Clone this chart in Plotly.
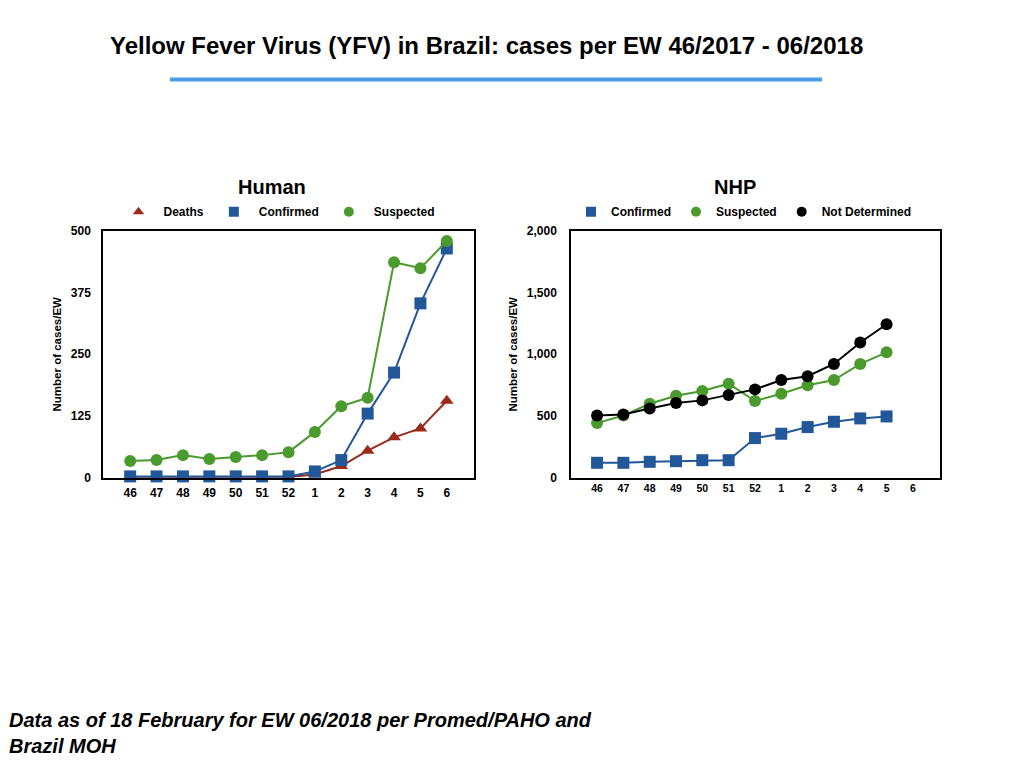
"""
Yellow Fever Virus (YFV) in Brazil - human and NHP cases per epidemiological week
"""

import plotly.graph_objects as go

# ----------------------------------------------------------------------------
# Data
# ----------------------------------------------------------------------------
weeks = ['46', '47', '48', '49', '50', '51', '52', '1', '2', '3', '4', '5', '6']

human_deaths = [2, 2, 2, 2, 2, 2, 2, 7, 24, 55, 82, 100, 156]
human_confirmed = [3, 3, 3, 3, 3, 3, 3, 13, 36, 130, 213, 353, 464]
human_suspected = [34, 36, 46, 38, 42, 46, 52, 93, 145, 162, 436, 424, 479]

nhp_weeks = ['46', '47', '48', '49', '50', '51', '52', '1', '2', '3', '4', '5']
nhp_confirmed = [122, 122, 130, 135, 143, 143, 322, 357, 411, 454, 481, 497]
nhp_suspected = [443, 505, 600, 665, 703, 762, 622, 681, 749, 792, 922, 1016]
nhp_not_determined = [505, 513, 562, 605, 627, 670, 716, 792, 822, 922, 1095, 1243]

RED = '#9b2b1c'
BLUE = '#22589a'
GREEN = '#4a9a2e'
BLACK = '#000000'
FONT = 'Liberation Sans'

W, H = 1024, 768


def px_x(v):
    return v / W


def px_y(v):
    # small correction: the captured page comes out slightly squeezed vertically
    return 1 - ((v - 6.5) / 0.981) / H


fig = go.Figure()

# ============================================================================
# HUMAN
# ============================================================================
human_series = [
    ('Deaths', human_deaths, RED, 'triangle-up'),
    ('Confirmed', human_confirmed, BLUE, 'square'),
    ('Suspected', human_suspected, GREEN, 'circle'),
]
for name, vals, color, sym in human_series:
    fig.add_trace(go.Scatter(
        x=weeks, y=vals, mode='lines+markers', name=name,
        line=dict(color=color, width=2),
        marker=dict(symbol=sym, size=12, color=color),
        xaxis='x', yaxis='y', showlegend=False, cliponaxis=False
    ))
    # legend entry (marker only)
    fig.add_trace(go.Scatter(
        x=[None], y=[None], mode='markers', name=name,
        marker=dict(symbol=sym, size=10, color=color),
        xaxis='x', yaxis='y', legend='legend'
    ))

# ============================================================================
# NHP
# ============================================================================
nhp_series = [
    ('Confirmed', nhp_confirmed, BLUE, 'square'),
    ('Suspected', nhp_suspected, GREEN, 'circle'),
    ('Not Determined', nhp_not_determined, BLACK, 'circle'),
]
for name, vals, color, sym in nhp_series:
    fig.add_trace(go.Scatter(
        x=nhp_weeks, y=vals, mode='lines+markers', name=name,
        line=dict(color=color, width=2),
        marker=dict(symbol=sym, size=12, color=color),
        xaxis='x2', yaxis='y2', showlegend=False, cliponaxis=False
    ))
    fig.add_trace(go.Scatter(
        x=[None], y=[None], mode='markers', name=name,
        marker=dict(symbol=sym, size=10, color=color),
        xaxis='x2', yaxis='y2', legend='legend2'
    ))

axis_common = dict(
    showline=True, linecolor='black', linewidth=1.5, mirror=True,
    showgrid=False, zeroline=False, ticks='', fixedrange=True,
)

fig.update_layout(
    width=W, height=H,
    margin=dict(l=0, r=0, t=0, b=0),
    paper_bgcolor='white', plot_bgcolor='white',
    font=dict(family=FONT, color='black'),
    xaxis=dict(
        axis_common, domain=[px_x(103), px_x(474)], anchor='y',
        type='category', categoryorder='array', categoryarray=weeks,
        range=[-1.03, 13.03], ticklabelstandoff=3,
        tickfont=dict(size=12, family=FONT, weight='bold'),
    ),
    yaxis=dict(
        axis_common, domain=[px_y(477), px_y(230)], anchor='x',
        range=[0, 500], tickvals=[0, 125, 250, 375, 500],
        ticklabelstandoff=8,
        tickfont=dict(size=12, family=FONT, weight='bold'),
        title=dict(text='Number of cases/EW', standoff=7,
                   font=dict(size=11.5, family=FONT, weight='bold')),
    ),
    xaxis2=dict(
        axis_common, domain=[px_x(571), px_x(940)], anchor='y2',
        type='category', categoryorder='array', categoryarray=weeks,
        range=[-0.99, 13.03], ticklabelstandoff=0,
        tickfont=dict(size=10.5, family=FONT, weight='bold'),
    ),
    yaxis2=dict(
        axis_common, domain=[px_y(477), px_y(230)], anchor='x2',
        range=[0, 2000], tickvals=[0, 500, 1000, 1500, 2000],
        tickformat=',d', ticklabelstandoff=10,
        tickfont=dict(size=12, family=FONT, weight='bold'),
        title=dict(text='Number of cases/EW', standoff=7,
                   font=dict(size=11.5, family=FONT, weight='bold')),
    ),
    legend=dict(
        orientation='h', x=px_x(277), xanchor='center', y=px_y(211), yanchor='middle',
        font=dict(size=12, family=FONT, weight='bold'),
        bgcolor='rgba(0,0,0,0)', itemclick=False, itemwidth=40,
    ),
    legend2=dict(
        orientation='h', x=px_x(744), xanchor='center', y=px_y(211), yanchor='middle',
        font=dict(size=12, family=FONT, weight='bold'),
        bgcolor='rgba(0,0,0,0)', itemclick=False,
    ),
    showlegend=True,
)

# Titles and notes
fig.add_annotation(
    text='<b>Yellow Fever Virus (YFV) in Brazil: cases per EW 46/2017 - 06/2018</b>',
    x=px_x(486), y=px_y(45), xref='paper', yref='paper', showarrow=False,
    font=dict(size=24, family=FONT, color='black'), xanchor='center', yanchor='middle'
)
fig.add_shape(
    type='line', xref='paper', yref='paper',
    x0=px_x(170), x1=px_x(822), y0=px_y(79), y1=px_y(79),
    line=dict(color='#4a9be8', width=4)
)
fig.add_annotation(
    text='<b>Human</b>', x=px_x(272), y=px_y(186), xref='paper', yref='paper',
    showarrow=False, font=dict(size=20, family=FONT), xanchor='center', yanchor='middle'
)
fig.add_annotation(
    text='<b>NHP</b>', x=px_x(735), y=px_y(186), xref='paper', yref='paper',
    showarrow=False, font=dict(size=20, family=FONT), xanchor='center', yanchor='middle'
)
fig.add_annotation(
    text='<b><i>Data as of 18 February for EW 06/2018 per Promed/PAHO and<br>Brazil MOH</i></b>',
    x=px_x(7), y=px_y(732), xref='paper', yref='paper', showarrow=False,
    font=dict(size=20, family=FONT), xanchor='left', yanchor='middle', align='left'
)

# page body has a default 8px margin; drop it so paper pixels match the window
fig.write_html('out.html', config={'displayModeBar': False},
               post_script="document.body.style.margin='0';")
